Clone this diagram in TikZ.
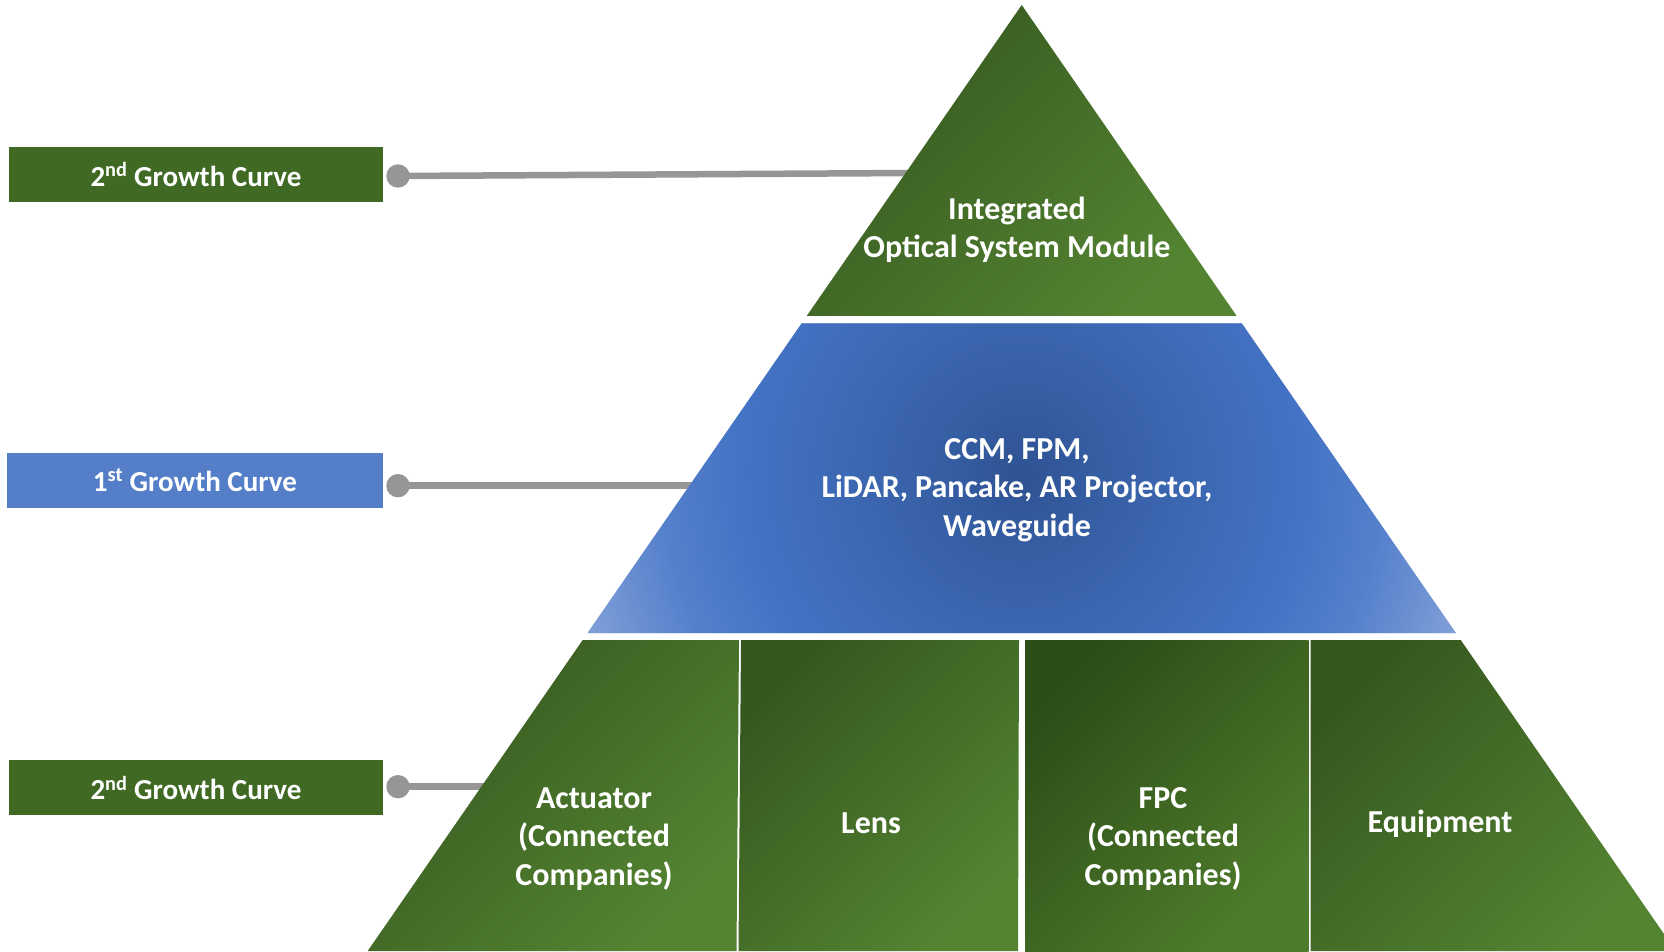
\documentclass[tikz,border=0pt]{standalone}
\usepackage{fontspec}
\setmainfont{Carlito}
\definecolor{gBox}{RGB}{64,106,36}
\definecolor{bBox}{RGB}{84,127,200}
\definecolor{gDark}{RGB}{54,88,31}
\definecolor{gLight}{RGB}{84,132,50}
\definecolor{gDarker}{RGB}{45,77,23}
\definecolor{gLight2}{RGB}{78,124,44}
\definecolor{lineGray}{RGB}{150,150,150}
\definecolor{bC}{RGB}{46,83,148}
\definecolor{bC2}{RGB}{54,94,163}
\definecolor{bM}{RGB}{68,114,196}
\definecolor{bM2}{RGB}{84,128,203}
\definecolor{bL}{RGB}{145,171,221}
\pgfdeclareradialshading{midblue}{\pgfpoint{0bp}{0bp}}{color(0bp)=(bC); color(4bp)=(bC2); color(14bp)=(bM); color(18bp)=(bM2); color(25bp)=(bL); color(50bp)=(bL)}
\tikzset{
  lbl/.style={text=white, font=\bfseries\fontsize{29}{34}\selectfont, minimum width=374, minimum height=55, inner sep=0, anchor=center},
  ptxt/.style={text=white, font=\bfseries\fontsize{32}{38.5}\selectfont, align=center, inner sep=0},
  conn/.style={draw=lineGray, line width=6.5},
  dotc/.style={fill=lineGray},
  greenshade/.style={top color=gDark, bottom color=gLight, shading angle=45},
  darkshade/.style={top color=gDarker, bottom color=gLight2, shading angle=45},
}
\begin{document}
\begin{tikzpicture}[x=1pt,y=1pt]
\useasboundingbox (0,0) rectangle (1664,951);
\fill[white] (0,0) rectangle (1664,951);

% left labels
\node[lbl, fill=gBox] (b1) at (196,776.5) {2\textsuperscript{nd} Growth Curve};
\node[lbl, fill=bBox, minimum width=376] (b2) at (195,470.8) {1\textsuperscript{st} Growth Curve};
\node[lbl, fill=gBox] (b3) at (196,163.5) {2\textsuperscript{nd} Growth Curve};

% connector points
\coordinate (c1) at (398,775);
\coordinate (c2) at (398,465.3);
\coordinate (c3) at (398,164.3);
\coordinate (e1) at (915,778);
\coordinate (e2) at (700,465.3);
\coordinate (e3) at (492,164.3);

\draw[conn] (c1) -- (e1);
\draw[conn] (c2) -- (e2);
\draw[conn] (c3) -- (e3);
\fill[dotc] (c1) circle (11.7);
\fill[dotc] (c2) circle (11.7);
\fill[dotc] (c3) circle (11.7);

% top triangle
\shade[greenshade] (1021.7,946) -- (1236.7,635) -- (806.7,635) -- cycle;

% middle trapezoid
\fill[bL] (801.7,627.7) -- (1241.7,627.7) -- (1455.8,318) -- (587.6,318) -- cycle;
\begin{scope}
  \clip (801.7,627.7) -- (1241.7,627.7) -- (1455.8,318) -- (587.6,318) -- cycle;
  \shade[shading=midblue] (1021.7,478) circle (500);
\end{scope}

% bottom segments
\shade[greenshade] (582.7,311) -- (739,311) -- (736.5,0) -- (367.7,0) -- cycle;
\shade[greenshade] (741,311) -- (1019,311) -- (1018,0) -- (738.5,0) -- cycle;
\shade[darkshade] (1025,311) -- (1308.5,311) -- (1308.5,0) -- (1025,0) -- cycle;
\shade[greenshade] (1310.5,311) -- (1460.7,311) -- (1664,17) -- (1664,0) -- (1310.5,0) -- cycle;

% texts
\node[ptxt] (t1) at (1017,721) {Integrated\\Optical System Module};
\node[ptxt] (t2) at (1017,461) {CCM, FPM,\\LiDAR, Pancake, AR Projector,\\Waveguide};
\node[ptxt] (t3) at (594,112) {Actuator\\(Connected\\Companies)};
\node[ptxt] (t4) at (871,128) {Lens};
\node[ptxt] (t5) at (1163,112) {FPC\\(Connected\\Companies)};
\node[ptxt] (t6) at (1440,127) {Equipment};
\end{tikzpicture}
\end{document}
